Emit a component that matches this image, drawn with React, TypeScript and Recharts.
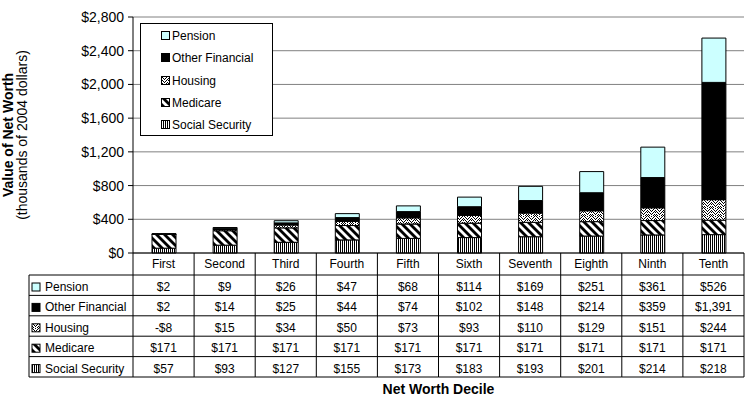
import React from 'react';
import { BarChart, Bar, XAxis, YAxis, CartesianGrid } from 'recharts';

// values (thousands of 2004 dollars)
const categories = ['First', 'Second', 'Third', 'Fourth', 'Fifth', 'Sixth', 'Seventh', 'Eighth', 'Ninth', 'Tenth'];
const socialSecurity = [57, 93, 127, 155, 173, 183, 193, 201, 214, 218];
const medicare = [171, 171, 171, 171, 171, 171, 171, 171, 171, 171];
const housing = [-8, 15, 34, 50, 73, 93, 110, 129, 151, 244];
const otherFinancial = [2, 14, 25, 44, 74, 102, 148, 214, 359, 1391];
const pension = [2, 9, 26, 47, 68, 114, 169, 251, 361, 526];
const yTicks = [0, 400, 800, 1200, 1600, 2000, 2400, 2800];

const CHART_W = 747;
const CHART_H = 397;
const MARGIN = { top: 17, right: 3, left: 73, bottom: 20 };
const Y_AXIS_W = 60;
const X_AXIS_H = 124;
const PLOT_LEFT = MARGIN.left + Y_AXIS_W;
const PLOT_W = CHART_W - PLOT_LEFT - MARGIN.right;
const COL_W = PLOT_W / categories.length;
const HEADER_H = 22;
const ROW_H = 20.4;
const TABLE_LEFT = 29;
const FONT = 'Arial, "Liberation Sans", sans-serif';

const data = categories.map((name, i) => ({
  name,
  socialSecurity: socialSecurity[i],
  medicare: medicare[i],
  housing: housing[i],
  otherFinancial: otherFinancial[i],
  pension: pension[i],
}));

// rows of the table, top to bottom (also the legend order)
const rows = [
  { key: 'pension', name: 'Pension', values: pension, fill: '#CCFFFF' },
  { key: 'otherFinancial', name: 'Other Financial', values: otherFinancial, fill: '#000000' },
  { key: 'housing', name: 'Housing', values: housing, fill: 'url(#patHousing)' },
  { key: 'medicare', name: 'Medicare', values: medicare, fill: 'url(#patMedicare)' },
  { key: 'socialSecurity', name: 'Social Security', values: socialSecurity, fill: 'url(#patSS)' },
];

const housingDots = [
  [0, 0], [3, 0], [6, 0], [1, 1], [5, 1], [2, 2], [4, 2], [7, 2], [0, 3], [3, 3], [6, 3],
  [1, 4], [5, 4], [7, 4], [2, 5], [4, 5], [0, 6], [3, 6], [6, 6], [1, 7], [5, 7], [7, 7],
];

const money = (v: number) => (v < 0 ? `-$${Math.abs(v).toLocaleString('en-US')}` : `$${v.toLocaleString('en-US')}`);

function Patterns() {
  return (
    <defs>
      <pattern id="patSS" width="2" height="2" patternUnits="userSpaceOnUse">
        <rect width="2" height="2" fill="#fff" />
        <rect width="1" height="2" fill="#000" />
      </pattern>
      <pattern id="patMedicare" width="8" height="8" patternUnits="userSpaceOnUse">
        <rect width="8" height="8" fill="#fff" />
        <polygon points="0,0 4,0 8,4 8,8" fill="#000" />
        <polygon points="0,4 4,8 0,8" fill="#000" />
      </pattern>
      <pattern id="patHousing" width="8" height="8" patternUnits="userSpaceOnUse">
        <rect width="8" height="8" fill="#fff" />
        {housingDots.map(([x, y], i) => (
          <rect key={i} x={x} y={y} width="1" height="1" fill="#000" />
        ))}
      </pattern>
    </defs>
  );
}

function TableColumn(props: any) {
  const { x, y, payload } = props;
  const idx = categories.indexOf(payload.value);
  const left = x - COL_W / 2;
  const right = x + COL_W / 2;
  const bottom = y + HEADER_H + ROW_H * rows.length;
  const lines = [];
  for (let r = 0; r <= rows.length; r++) {
    const ly = y + HEADER_H + r * ROW_H;
    lines.push(<line key={`h${r}`} x1={idx === 0 ? TABLE_LEFT : left} x2={right} y1={ly} y2={ly} stroke="#000" />);
  }
  return (
    <g fontFamily={FONT} fontSize={12} fill="#000">
      {lines}
      <line x1={right} x2={right} y1={y} y2={bottom} stroke="#000" />
      {idx === 0 && <line x1={left} x2={left} y1={y} y2={bottom} stroke="#000" />}
      {idx === 0 && <line x1={TABLE_LEFT} x2={TABLE_LEFT} y1={y + HEADER_H} y2={bottom} stroke="#000" />}
      <text x={x} y={y + 15} textAnchor="middle">{payload.value}</text>
      {rows.map((row, r) => (
        <text key={row.key} x={x} y={y + HEADER_H + r * ROW_H + 16} textAnchor="middle">
          {money(row.values[idx])}
        </text>
      ))}
      {idx === 0 &&
        rows.map((row, r) => {
          const top = y + HEADER_H + r * ROW_H;
          return (
            <g key={`l${row.key}`}>
              <rect x={TABLE_LEFT + 3} y={top + 8} width={8} height={8} fill={row.fill} stroke="#000" />
              <text x={TABLE_LEFT + 16} y={top + 16}>{row.name}</text>
            </g>
          );
        })}
    </g>
  );
}

function YTitle(props: any) {
  const vb = props.viewBox || { y: MARGIN.top, height: 236 };
  const cy = vb.y + vb.height / 2;
  return (
    <g fontFamily={FONT} fontSize={14} fill="#000">
      <text x={13} y={cy} textAnchor="middle" fontWeight="bold" transform={`rotate(-90 13 ${cy})`}>
        Value of Net Worth
      </text>
      <text x={27} y={cy} textAnchor="middle" transform={`rotate(-90 27 ${cy})`}>
        (thousands of 2004 dollars)
      </text>
    </g>
  );
}

function ChartLegend() {
  return (
    <div
      style={{
        position: 'absolute',
        left: 140,
        top: 23,
        width: 131,
        height: 111,
        border: '1px solid #000',
        background: '#fff',
        fontFamily: FONT,
        fontSize: 12,
      }}
    >
      {rows.map((row, i) => (
        <div key={row.key} style={{ position: 'absolute', left: 20, top: 4 + i * 22.3, height: 16, display: 'flex', alignItems: 'center' }}>
          <svg width={10} height={10} style={{ marginRight: 1 }}>
            <rect x={0.5} y={0.5} width={8} height={8} fill={row.fill} stroke="#000" />
          </svg>
          <span>{row.name}</span>
        </div>
      ))}
    </div>
  );
}

export default function App() {
  return (
    <div style={{ position: 'absolute', left: 0, top: 0, width: CHART_W, height: CHART_H, background: '#fff' }}>
      <BarChart width={CHART_W} height={CHART_H} data={data} margin={MARGIN} barSize={24}>
        <Patterns />
        <CartesianGrid vertical={false} stroke="#808080" />
        <XAxis
          dataKey="name"
          height={X_AXIS_H}
          interval={0}
          tickLine={false}
          tickSize={0}
          tickMargin={0}
          axisLine={{ stroke: '#000' }}
          tick={<TableColumn />}
          label={{ value: 'Net Worth Decile', position: 'bottom', offset: 7, fontFamily: FONT, fontSize: 14, fontWeight: 'bold', fill: '#000' }}
        />
        <YAxis
          width={Y_AXIS_W}
          domain={[0, 2800]}
          ticks={yTicks}
          interval={0}
          tickFormatter={money}
          axisLine={{ stroke: '#000' }}
          tickLine={{ stroke: '#000' }}
          tickSize={5}
          tickMargin={4}
          tick={{ fill: '#000', fontSize: 14, fontFamily: FONT }}
          label={(p: any) => <YTitle {...p} />}
        />
        <YAxis yAxisId="right" orientation="right" width={0} tick={false} tickLine={false} axisLine={{ stroke: '#808080' }} />
        {[...rows].reverse().map((row) => (
          <Bar key={row.key} dataKey={row.key} name={row.name} stackId="a" fill={row.fill} stroke="#000" strokeWidth={1} isAnimationActive={false} />
        ))}
      </BarChart>
      <ChartLegend />
    </div>
  );
}
